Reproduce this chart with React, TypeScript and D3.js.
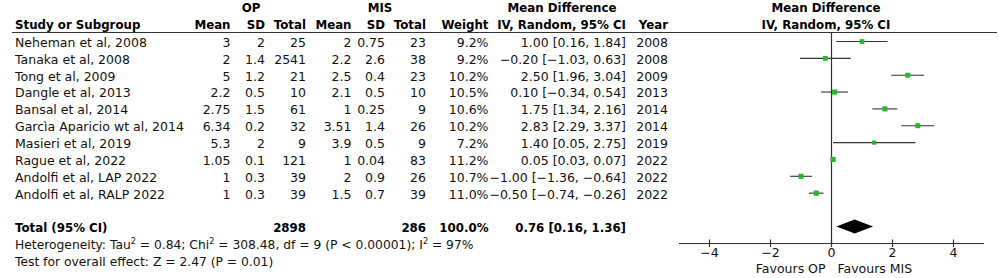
import React from "react";
import * as d3 from "d3";

const studies = [
  "Neheman et al, 2008",
  "Tanaka et al, 2008",
  "Tong et al, 2009",
  "Dangle et al, 2013",
  "Bansal et al, 2014",
  "Garcìa Aparicio wt al, 2014",
  "Masieri et al, 2019",
  "Rague et al, 2022",
  "Andolfi et al, LAP 2022",
  "Andolfi et al, RALP 2022",
];
const opMean = ["3", "2", "5", "2.2", "2.75", "6.34", "5.3", "1.05", "1", "1"];
const opSD = ["2", "1.4", "1.2", "0.5", "1.5", "0.2", "2", "0.1", "0.3", "0.3"];
const opTotal = ["25", "2541", "21", "10", "61", "32", "9", "121", "39", "39"];
const misMean = ["2", "2.2", "2.5", "2.1", "1", "3.51", "3.9", "1", "2", "1.5"];
const misSD = ["0.75", "2.6", "0.4", "0.5", "0.25", "1.4", "0.5", "0.04", "0.9", "0.7"];
const misTotal = ["23", "38", "23", "10", "9", "26", "9", "83", "26", "39"];
const weights = [9.2, 9.2, 10.2, 10.5, 10.6, 10.2, 7.2, 11.2, 10.7, 11.0];
const md = [1.0, -0.2, 2.5, 0.1, 1.75, 2.83, 1.4, 0.05, -1.0, -0.5];
const lo = [0.16, -1.03, 1.96, -0.34, 1.34, 2.29, 0.05, 0.03, -1.36, -0.74];
const hi = [1.84, 0.63, 3.04, 0.54, 2.16, 3.37, 2.75, 0.07, -0.64, -0.26];
const years = ["2008", "2008", "2009", "2013", "2014", "2014", "2019", "2022", "2022", "2022"];
const total = { op: "2898", mis: "286", weight: "100.0%", md: 0.76, lo: 0.16, hi: 1.36 };
const axisTicks = [-4, -2, 0, 2, 4];

const FONT = "DejaVu Sans, Verdana, sans-serif";

function fmt(v: number) {
  return v.toFixed(2).replace("-", "\u2212");
}
function ciText(m: number, l: number, h: number) {
  return `${fmt(m)} [${fmt(l)}, ${fmt(h)}]`;
}

export default function App() {
  const W = 999;
  const H = 278;
  const x = d3.scaleLinear().domain([-5, 5]).range([679, 984]);
  const rowY = (i: number) => 41.5 + 16.85 * i;
  const totalY = 226.5;
  const axisY = 243.5;
  const fs = 12.5;
  const hfs = 11.8;
  const cols: { right: number; vals: string[] }[] = [
    { right: 230.5, vals: opMean },
    { right: 265, vals: opSD },
    { right: 306, vals: opTotal },
    { right: 351.5, vals: misMean },
    { right: 385, vals: misSD },
    { right: 426, vals: misTotal },
    { right: 488.5, vals: weights.map((w) => w.toFixed(1) + "%") },
  ];
  const sq = d3.scaleSqrt().domain([0, 12]).range([0, 5.4]);
  const diamond = `M${x(total.lo)},${totalY} L${x(total.md)},${totalY - 7} L${x(total.hi)},${totalY} L${x(total.md)},${totalY + 7} Z`;
  return (
    <svg
      width={W}
      height={H}
      style={{ position: "absolute", left: 0, top: 0, background: "#fff" }}
      fontFamily={FONT}
    >
      <rect width={W} height={H} fill="#fff" />
      {/* header */}
      <g fontWeight="bold" fontSize={hfs} fill="#000">
        <text x={251} y={8} dy="0.35em" textAnchor="middle">OP</text>
        <text x={380} y={8} dy="0.35em" textAnchor="middle">MIS</text>
        <text x={562} y={8} dy="0.35em" textAnchor="middle">Mean Difference</text>
        <text x={826} y={8} dy="0.35em" textAnchor="middle">Mean Difference</text>
        <text x={15} y={24.5} dy="0.35em">Study or Subgroup</text>
        <text x={230.5} y={24.5} dy="0.35em" textAnchor="end">Mean</text>
        <text x={265} y={24.5} dy="0.35em" textAnchor="end">SD</text>
        <text x={306} y={24.5} dy="0.35em" textAnchor="end">Total</text>
        <text x={351.5} y={24.5} dy="0.35em" textAnchor="end">Mean</text>
        <text x={385} y={24.5} dy="0.35em" textAnchor="end">SD</text>
        <text x={426} y={24.5} dy="0.35em" textAnchor="end">Total</text>
        <text x={488.5} y={24.5} dy="0.35em" textAnchor="end">Weight</text>
        <text x={626} y={24.5} dy="0.35em" textAnchor="end">IV, Random, 95% CI</text>
        <text x={668} y={24.5} dy="0.35em" textAnchor="end">Year</text>
        <text x={826} y={24.5} dy="0.35em" textAnchor="middle">IV, Random, 95% CI</text>
      </g>
      <line x1={12} x2={997} y1={32.5} y2={32.5} stroke="#333" strokeWidth={1.2} />
      {/* rows */}
      <g fontSize={fs} fill="#111">
        {studies.map((s, i) => (
          <g key={s}>
            <text x={15} y={rowY(i) + 1} dy="0.35em">{s}</text>
            {cols.map((c, j) => (
              <text key={j} x={c.right} y={rowY(i) + 1} dy="0.35em" textAnchor="end">
                {c.vals[i]}
              </text>
            ))}
            <text x={626} y={rowY(i) + 1} dy="0.35em" textAnchor="end">
              {ciText(md[i], lo[i], hi[i])}
            </text>
            <text x={668} y={rowY(i) + 1} dy="0.35em" textAnchor="end">{years[i]}</text>
          </g>
        ))}
      </g>
      {/* total row */}
      <g fontSize={hfs} fontWeight="bold" fill="#000">
        <text x={15} y={totalY + 1} dy="0.35em">Total (95% CI)</text>
        <text x={306} y={totalY + 1} dy="0.35em" textAnchor="end">{total.op}</text>
        <text x={426} y={totalY + 1} dy="0.35em" textAnchor="end">{total.mis}</text>
        <text x={488.5} y={totalY + 1} dy="0.35em" textAnchor="end">{total.weight}</text>
        <text x={626} y={totalY + 1} dy="0.35em" textAnchor="end">
          {ciText(total.md, total.lo, total.hi)}
        </text>
      </g>
      <g fontSize={12.3} fill="#111">
        <text x={15} y={244.5} dy="0.35em">
          Heterogeneity: Tau<tspan fontSize={8} dy="-4.5">2</tspan>
          <tspan dy="4.5"> = 0.84; Chi</tspan>
          <tspan fontSize={8} dy="-4.5">2</tspan>
          <tspan dy="4.5"> = 308.48, df = 9 (P &lt; 0.00001); I</tspan>
          <tspan fontSize={8} dy="-4.5">2</tspan>
          <tspan dy="4.5"> = 97%</tspan>
        </text>
        <text x={15} y={261.5} dy="0.35em">Test for overall effect: Z = 2.47 (P = 0.01)</text>
      </g>
      {/* forest plot */}
      <line x1={x(0)} x2={x(0)} y1={32.5} y2={axisY} stroke="#333" strokeWidth={1.2} />
      {studies.map((s, i) => (
        <g key={"m" + s}>
          <line x1={x(lo[i])} x2={x(hi[i])} y1={rowY(i)} y2={rowY(i)} stroke="#333" strokeWidth={1.1} />
          <rect
            x={x(md[i]) - sq(weights[i]) / 2}
            y={rowY(i) - sq(weights[i]) / 2}
            width={sq(weights[i])}
            height={sq(weights[i])}
            fill="#27b627"
          />
        </g>
      ))}
      <path d={diamond} fill="#000" />
      <line x1={x(-5)} x2={x(5)} y1={axisY} y2={axisY} stroke="#333" strokeWidth={1.2} />
      {axisTicks.map((t) => (
        <g key={t}>
          <line x1={x(t)} x2={x(t)} y1={axisY - 4} y2={axisY + 3.5} stroke="#333" strokeWidth={1.2} />
          <text x={x(t)} y={252.5} dy="0.35em" textAnchor="middle" fontSize={fs} fill="#111">
            {t < 0 ? "\u2212" + Math.abs(t) : String(t)}
          </text>
        </g>
      ))}
      <text x={x(0) - 6} y={269} dy="0.35em" textAnchor="end" fontSize={fs} fill="#111">Favours OP</text>
      <text x={x(0) + 6} y={269} dy="0.35em" textAnchor="start" fontSize={fs} fill="#111">Favours MIS</text>
    </svg>
  );
}
